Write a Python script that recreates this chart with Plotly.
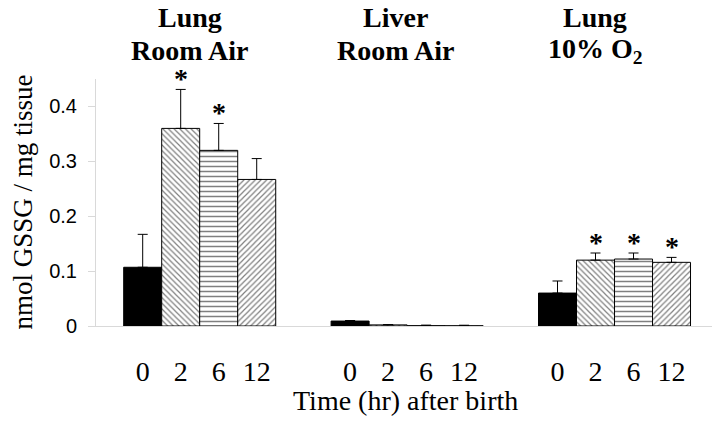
import plotly.graph_objects as go

# ---- data ----
group_index = [0, 1, 2]
header_line1 = ["Lung", "Liver", "Lung"]
header_line2 = ["Room Air", "Room Air", "10% O<sub>2</sub>"]
time_labels = ["0", "2", "6", "12"]

gssg_0h = [0.107, 0.009, 0.060]
gssg_2h = [0.360, 0.002, 0.120]
gssg_6h = [0.320, 0.0006, 0.122]
gssg_12h = [0.267, 0.0004, 0.116]

sem_0h = [0.060, 0.001, 0.022]
sem_2h = [0.071, 0.0005, 0.013]
sem_6h = [0.049, 0.001, 0.011]
sem_12h = [0.038, 0.001, 0.009]

# significance (*) flags per group for each time point
sig_0h = [False, False, False]
sig_2h = [True, False, True]
sig_6h = [True, False, True]
sig_12h = [False, False, True]

means = [gssg_0h, gssg_2h, gssg_6h, gssg_12h]
sems = [sem_0h, sem_2h, sem_6h, sem_12h]
sigs = [sig_0h, sig_2h, sig_6h, sig_12h]

# ---- styling ----
serif = "Liberation Serif, Times New Roman, serif"
sans = "Liberation Sans, Arial, sans-serif"
bargap = 0.267
bar_w = (1 - bargap) / 4
offsets = [(i - 1.5) * bar_w for i in range(4)]

patterns = [
    dict(shape="", bgcolor="black", fgcolor="black"),
    dict(shape="\\", bgcolor="white", fgcolor="black", size=4, solidity=0.3),
    dict(shape="-", bgcolor="white", fgcolor="black", size=5, solidity=0.3),
    dict(shape="/", bgcolor="white", fgcolor="black", size=4, solidity=0.3),
]
fills = ["black", "white", "white", "white"]

fig = go.Figure()
for i in range(4):
    fig.add_trace(go.Bar(
        x=group_index, y=means[i], name=time_labels[i],
        marker=dict(color=fills[i], pattern=patterns[i],
                    line=dict(color="black", width=1)),
        error_y=dict(type="data", symmetric=False, array=sems[i],
                     arrayminus=[0] * len(sems[i]),
                     color="black", thickness=1, width=5),
        showlegend=False,
    ))

# asterisks
for i in range(4):
    for g in group_index:
        if sigs[i][g]:
            fig.add_annotation(
                x=g + offsets[i], y=means[i][g] + sems[i][g],
                xref="x", yref="y", text="<b>*</b>", showarrow=False,
                xanchor="center", yanchor="middle", yshift=11,
                font=dict(family=serif, size=28, color="black"))

# headers
header_dx = [-0.047, -0.058, -0.094]
for g in group_index:
    fig.add_annotation(x=g + header_dx[g], y=1.25, xref="x", yref="paper",
                       text="<b>" + header_line1[g] + "</b>", showarrow=False,
                       xanchor="center", yanchor="middle",
                       font=dict(family=serif, size=28, color="black"))
    fig.add_annotation(x=g + header_dx[g], y=1.115, xref="x", yref="paper",
                       text="<b>" + header_line2[g] + "</b>", showarrow=False,
                       xanchor="center", yanchor="middle",
                       font=dict(family=serif, size=28, color="black"))

# axis titles
fig.add_annotation(x=-0.12, y=0.50, xref="paper", yref="paper",
                   text="nmol GSSG / mg tissue", textangle=-90, showarrow=False,
                   xanchor="center", yanchor="middle",
                   font=dict(family=serif, size=27, color="black"))
fig.add_annotation(x=0.503, y=-0.30, xref="paper", yref="paper",
                   text="Time (hr) after birth", showarrow=False,
                   xanchor="center", yanchor="middle",
                   font=dict(family=serif, size=28, color="black"))

tickvals = [g + o for g in group_index for o in offsets]
ticktext = [t for g in group_index for t in time_labels]

fig.update_layout(
    width=718, height=422,
    margin=dict(l=96, r=6, t=79, b=96),
    paper_bgcolor="white", plot_bgcolor="white",
    barmode="group", bargap=bargap, bargroupgap=0,
    xaxis=dict(range=[-0.5, 2.47], tickvals=tickvals, ticktext=ticktext,
               ticks="outside", ticklen=20, tickcolor="rgba(0,0,0,0)",
               showline=True, linecolor="#d9d9d9", linewidth=1,
               showgrid=False, zeroline=False, automargin=False,
               tickfont=dict(family=serif, size=28, color="black")),
    yaxis=dict(range=[0, 0.45], tickvals=[0, 0.1, 0.2, 0.3, 0.4],
               ticktext=["0", "0.1", "0.2", "0.3", "0.4"],
               ticks="outside", ticklen=7, tickcolor="#d9d9d9",
               ticklabelstandoff=7,
               showline=True, linecolor="#d9d9d9", linewidth=1,
               showgrid=False, zeroline=False, automargin=False,
               tickfont=dict(family=sans, size=20, color="black")),
)

fig.write_html("out.html",
               config={"displayModeBar": False},
               post_script="document.body.style.margin='0px';")
